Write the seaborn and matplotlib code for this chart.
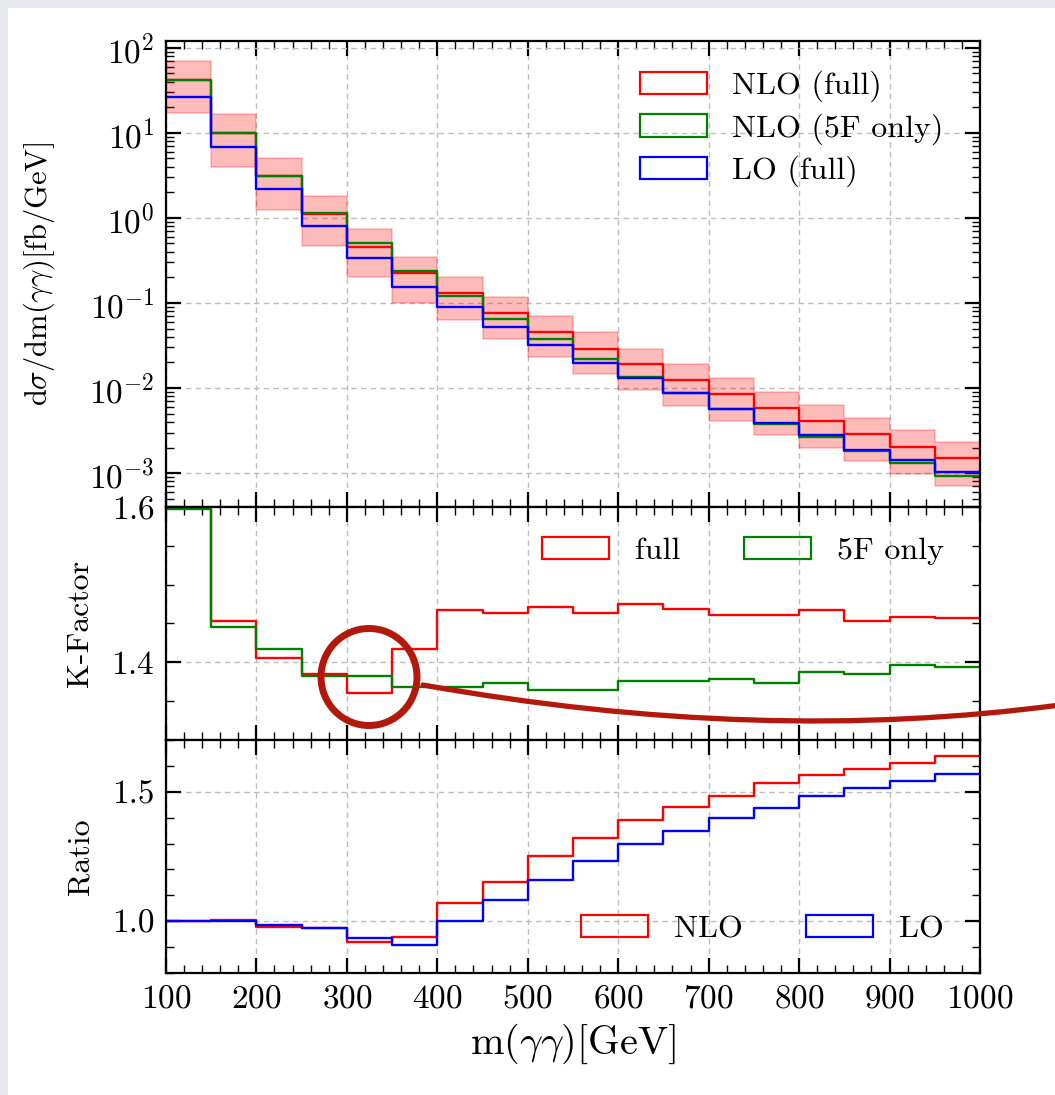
import numpy as np
import pandas as pd
import seaborn as sns
import matplotlib.pyplot as plt
from matplotlib.patches import Patch, Ellipse, PathPatch, Rectangle
from matplotlib.path import Path
from matplotlib.ticker import MultipleLocator, LogLocator, NullFormatter

# bins in m(gamma gamma) [GeV]
edges = np.arange(100, 1001, 50)
centers = edges[:-1] + 25

# d sigma / dm  [fb/GeV]
nlo_full = [41.9, 9.88, 3.08, 1.12, 0.457, 0.223, 0.130, 0.0755, 0.046, 0.029,
            0.019, 0.0124, 0.0084, 0.00582, 0.00405, 0.00288, 0.00204, 0.00149]
nlo_5f = [42.0, 9.9, 3.12, 1.15, 0.50, 0.238, 0.121, 0.0655, 0.0374, 0.0219,
          0.0136, 0.00865, 0.00572, 0.0038, 0.00267, 0.0018, 0.0013, 0.00092]
lo_full = [26.0, 6.8, 2.19, 0.81, 0.336, 0.156, 0.089, 0.0518, 0.032, 0.0199,
           0.0130, 0.00865, 0.00572, 0.0039, 0.00277, 0.00187, 0.00142, 0.00104]
band_up = [69.0, 16.7, 5.04, 1.83, 0.74, 0.35, 0.20, 0.117, 0.071, 0.045,
           0.029, 0.0192, 0.0131, 0.009, 0.00625, 0.00444, 0.00318, 0.0023]
band_lo = [17.2, 4.0, 1.24, 0.47, 0.20, 0.10, 0.063, 0.0374, 0.0234, 0.0145,
           0.0095, 0.0061, 0.00405, 0.0028, 0.00195, 0.00137, 0.00098, 0.0007]

# K-factors
k_full = [1.61, 1.453, 1.406, 1.385, 1.361, 1.417, 1.468, 1.463, 1.471, 1.464,
          1.475, 1.469, 1.461, 1.461, 1.467, 1.453, 1.459, 1.457]
k_5f = [1.598, 1.446, 1.417, 1.383, 1.383, 1.368, 1.368, 1.373, 1.365, 1.365,
        1.376, 1.376, 1.379, 1.373, 1.388, 1.385, 1.396, 1.394]

# full / 5F only
ratio_nlo = [1.0, 1.005, 0.978, 0.975, 0.92, 0.939, 1.071, 1.152, 1.252, 1.322,
             1.391, 1.441, 1.482, 1.534, 1.566, 1.588, 1.611, 1.64]
ratio_lo = [1.0, 1.0, 0.987, 0.975, 0.935, 0.907, 1.0, 1.081, 1.161, 1.233,
            1.297, 1.349, 1.398, 1.439, 1.482, 1.514, 1.54, 1.569]

RED, GREEN, BLUE = '#ff0000', '#008000', '#0000ff'

sns.set_theme(style='ticks')
plt.rcParams.update({
    'font.family': ['cmr10'],
    'mathtext.fontset': 'cm',
    'axes.formatter.use_mathtext': True,
    'axes.unicode_minus': False,
    'axes.edgecolor': 'black',
    'axes.linewidth': 1.6,
    'xtick.direction': 'in',
    'ytick.direction': 'in',
    'xtick.top': True,
    'ytick.right': True,
    'xtick.color': 'black',
    'ytick.color': 'black',
    'xtick.labelsize': 24,
    'ytick.labelsize': 24,
    'xtick.major.size': 11,
    'ytick.major.size': 11,
    'xtick.minor.size': 6,
    'ytick.minor.size': 6,
    'xtick.major.width': 1.6,
    'ytick.major.width': 1.6,
    'xtick.minor.width': 1.0,
    'ytick.minor.width': 1.0,
    'xtick.major.pad': 8,
    'ytick.major.pad': 8,
    'text.color': 'black',
    'axes.labelcolor': 'black',
})


def step(ax, vals, color):
    df = pd.DataFrame({'m': centers, 'w': vals})
    sns.histplot(data=df, x='m', weights='w', bins=list(edges), element='step',
                 fill=False, color=color, linewidth=1.7, ax=ax)


def box(color):
    return Patch(facecolor='none', edgecolor=color, linewidth=1.6)


fig, axes = plt.subplots(3, 1, figsize=(10.55, 10.95), dpi=100, sharex=True,
                         gridspec_kw=dict(height_ratios=[2, 1, 1], hspace=0))
fig.subplots_adjust(left=0.1573, right=0.9289, top=0.9626, bottom=0.1114)
fig.patch.set_facecolor('#e6e7eb')
fig.add_artist(Rectangle((8 / 1055, 0), 1, 1 - 8 / 1095, transform=fig.transFigure,
                         facecolor='white', edgecolor='none', zorder=-5))

ax1, ax2, ax3 = axes
grid_kw = dict(ls=(0, (4, 3)), color='#bdbdbd', lw=1.0)

# top panel: cross sections
ax1.set_yscale('log')
ax1.fill_between(edges, np.append(band_lo, band_lo[-1]), np.append(band_up, band_up[-1]),
                 step='post', facecolor=(1, 0, 0, 0.27), edgecolor=(1, 0, 0, 0.22), lw=1.2)
step(ax1, nlo_full, RED)
step(ax1, nlo_5f, GREEN)
step(ax1, lo_full, BLUE)
ax1.set_ylim(4e-4, 120)
ax1.yaxis.set_major_locator(LogLocator(base=10, numticks=12))
ax1.yaxis.set_minor_locator(LogLocator(base=10, subs=np.arange(2, 10), numticks=12))
ax1.yaxis.set_minor_formatter(NullFormatter())
ax1.set_ylabel(r'd$\sigma$/dm($\gamma\gamma$)[fb/GeV]', fontsize=22)
ax1.yaxis.set_label_coords(-0.134, 0.5)
ax1.legend([box(RED), box(GREEN), box(BLUE)], ['NLO (full)', 'NLO (5F only)', 'LO (full)'],
           loc='upper right', bbox_to_anchor=(0.975, 0.97), frameon=False, fontsize=23,
           handlelength=2.1, handleheight=0.7, handletextpad=0.8, labelspacing=0.34,
           borderpad=0)

# middle panel: K-factor
step(ax2, k_full, RED)
step(ax2, k_5f, GREEN)
ax2.set_ylim(1.3, 1.6)
ax2.yaxis.set_major_locator(MultipleLocator(0.2))
ax2.yaxis.set_minor_locator(MultipleLocator(0.05))
ax2.set_ylabel('K-Factor', fontsize=23)
ax2.yaxis.set_label_coords(-0.088, 0.5)
ax2.legend([box(RED), box(GREEN)], ['full', '5F only'], ncol=2,
           loc='upper right', bbox_to_anchor=(0.975, 0.94), frameon=False, fontsize=23,
           handlelength=2.1, handleheight=0.7, handletextpad=0.8, columnspacing=2.0,
           borderpad=0)

# bottom panel: full / 5F ratio
step(ax3, ratio_nlo, RED)
step(ax3, ratio_lo, BLUE)
ax3.set_ylim(0.8, 1.7)
ax3.yaxis.set_major_locator(MultipleLocator(0.5))
ax3.yaxis.set_minor_locator(MultipleLocator(0.1))
ax3.yaxis.set_major_formatter(plt.FormatStrFormatter('%.1f'))
ax3.set_ylabel('Ratio', fontsize=23)
ax3.yaxis.set_label_coords(-0.088, 0.5)
ax3.legend([box(RED), box(BLUE)], ['NLO', 'LO'], ncol=2,
           loc='lower right', bbox_to_anchor=(0.975, 0.06), frameon=False, fontsize=23,
           handlelength=2.1, handleheight=0.7, handletextpad=0.8, columnspacing=2.0,
           borderpad=0)
ax3.set_xlabel(r'm($\gamma\gamma$)[GeV]', fontsize=29, labelpad=6)

for ax in axes:
    ax.set_xlim(100, 1000)
    ax.xaxis.set_major_locator(MultipleLocator(100))
    ax.xaxis.set_minor_locator(MultipleLocator(20))
    ax.grid(True, which='major', **grid_kw)
    ax.tick_params(which='both', top=True, right=True)
    ax.set_facecolor('white')
    for s in ax.spines.values():
        s.set_zorder(5)
for ax in (ax1, ax2):
    ax.set_xlabel('')
    ax.tick_params(labelbottom=False)

# hand-drawn highlight on the K-factor dip
def fpos(x, y):
    return (x / 1055, 1 - y / 1095)

mark = '#b2190c'
fig.add_artist(Ellipse(fpos(369, 677), 96 / 1055, 97 / 1095, transform=fig.transFigure,
                       fill=False, edgecolor=mark, lw=5, zorder=10))
curve = Path([fpos(423, 685), fpos(760, 745), fpos(1060, 705)],
             [Path.MOVETO, Path.CURVE3, Path.CURVE3])
fig.add_artist(PathPatch(curve, transform=fig.transFigure, fill=False, edgecolor=mark,
                         lw=3.8, zorder=10, capstyle='round'))

fig.savefig('out.png', dpi=100, facecolor=fig.get_facecolor())
